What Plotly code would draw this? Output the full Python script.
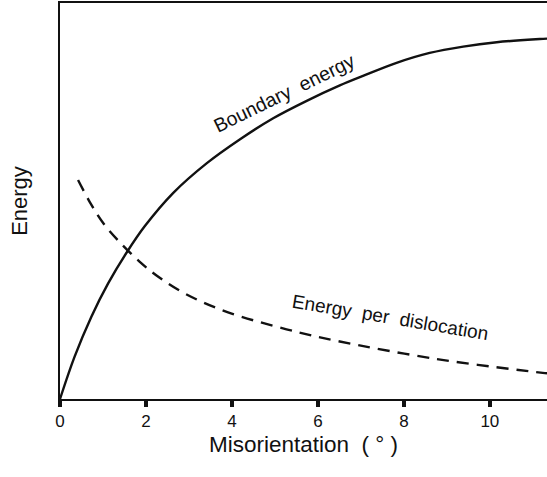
import plotly.graph_objects as go

# Boundary energy (solid)
boundary_x = [0, 0.34, 0.73, 1.12, 1.54, 1.97, 2.63, 3.41, 4.19, 4.96, 5.74, 6.51,
              7.05, 7.83, 8.60, 9.38, 10.16, 11.16, 11.33]
boundary_y = [0, 10.7, 20.8, 29.2, 36.8, 43.6, 52.0, 59.5, 65.6, 70.9, 75.3, 79.2,
              81.6, 84.9, 87.4, 89.0, 90.1, 90.9, 91.0]

# Energy per dislocation (dashed)
disloc_x = [0.42, 0.69, 1.0, 1.39, 1.85, 2.32, 2.98, 3.91, 5.27, 6.43, 8.76, 11.23, 11.33]
disloc_y = [55.3, 49.8, 44.5, 39.6, 34.7, 30.6, 26.2, 21.9, 17.6, 14.7, 10.1, 6.6, 6.5]

tick_vals = [0, 2, 4, 6, 8, 10]
tick_text = ["0", "2", "4", "6", "8", "10"]

FONT = "Liberation Sans, Arial, Helvetica, sans-serif"

fig = go.Figure()
fig.add_trace(go.Scatter(x=boundary_x, y=boundary_y, mode="lines",
                         line=dict(color="#111", width=2.4, shape="spline", smoothing=1.0),
                         showlegend=False, hoverinfo="skip"))
fig.add_trace(go.Scatter(x=disloc_x, y=disloc_y, mode="lines",
                         line=dict(color="#111", width=2.4, shape="spline", smoothing=1.0,
                                   dash="12px,8px"),
                         showlegend=False, hoverinfo="skip"))

fig.add_annotation(x=5.21, y=77.3, text="Boundary  energy", showarrow=False,
                   textangle=-26, font=dict(family=FONT, size=19.5, color="#111"))
fig.add_annotation(x=7.70, y=20.5, text="Energy  per  dislocation", showarrow=False,
                   textangle=9.5, font=dict(family=FONT, size=19, color="#111"))

fig.update_layout(
    width=547, height=477,
    margin=dict(l=60, r=0, t=3, b=78),
    paper_bgcolor="white", plot_bgcolor="white",
    font=dict(family=FONT, color="#111"),
    xaxis=dict(range=[0, 11.33], tickvals=tick_vals, ticktext=tick_text,
               ticks="outside", ticklen=6, tickwidth=4, tickcolor="#111",
               showline=True, linecolor="#111", linewidth=2, mirror=True,
               showgrid=False, zeroline=False,
               tickfont=dict(family=FONT, size=17, color="#111"),
               title=dict(text="Misorientation  ( ° )", font=dict(family=FONT, size=22.5, color="#111"),
                          standoff=6)),
    yaxis=dict(range=[0, 100], showticklabels=False, ticks="",
               showline=True, linecolor="#111", linewidth=2,
               showgrid=False, zeroline=False,
               title=dict(text="Energy", font=dict(family=FONT, size=22, color="#111"),
                          standoff=24)),
)

fig.write_html("out.html", config={"displayModeBar": False},
               post_script="document.body.style.margin='0';")
